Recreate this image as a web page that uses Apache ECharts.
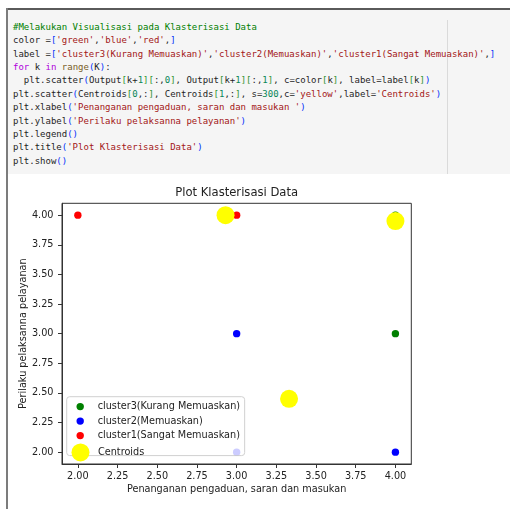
<!DOCTYPE html>
<html>
<head>
<meta charset="utf-8">
<script src="https://cdn.jsdelivr.net/npm/echarts@6/dist/echarts.min.js"></script>
<style>
  html, body { margin: 0; padding: 0; width: 510px; height: 509px; overflow: hidden; background: #fff; }
  #chart { position: absolute; left: 0; top: 0; width: 510px; height: 509px; }
  #cell { position: absolute; left: 6px; top: 8px; width: 504px; height: 166px; background: #f5f5f5;
          border-top: 2px solid #5a5a5a; box-sizing: border-box; }
  #rail { position: absolute; left: 6px; top: 8px; width: 2px; height: 501px; background: #7c7c7c; }
  #ruler { position: absolute; left: 447px; top: 20px; width: 1px; height: 154px; background: #dadada; }
  .ln { position: absolute; left: 13px; font: 9px "DejaVu Sans Mono", monospace; white-space: pre;
        line-height: 12px; color: #1f1f1f; }
</style>
</head>
<body>
<div id="chart"></div>
<div id="cell"></div>
<div id="rail"></div>
<div id="ruler"></div>
<div id="code"></div>
<script>
// Notebook cell source shown above the plot
const codeLines = [
  "#Melakukan Visualisasi pada Klasterisasi Data",
  "color =['green','blue','red',]",
  "label =['cluster3(Kurang Memuaskan)','cluster2(Memuaskan)','cluster1(Sangat Memuaskan)',]",
  "for k in range(K):",
  "  plt.scatter(Output[k+1][:,0], Output[k+1][:,1], c=color[k], label=label[k])",
  "plt.scatter(Centroids[0,:], Centroids[1,:], s=300,c='yellow',label='Centroids')",
  "plt.xlabel('Penanganan pengaduan, saran dan masukan ')",
  "plt.ylabel('Perilaku pelaksanna pelayanan')",
  "plt.legend()",
  "plt.title('Plot Klasterisasi Data')",
  "plt.show()"
];

// Scatter data: [x, y] pairs per cluster
const clusterNames = ['cluster3(Kurang Memuaskan)', 'cluster2(Memuaskan)', 'cluster1(Sangat Memuaskan)'];
const clusterColors = ['#008000', '#0000ff', '#ff0000'];
const cluster3Points = [[4, 4], [4, 3]];
const cluster2Points = [[3, 3], [4, 2], [3, 2]];
const cluster1Points = [[2, 4], [3, 4]];
const centroidName = 'Centroids';
const centroidPoints = [[2.93, 4.0], [4.0, 3.95], [3.33, 2.45]];

const xTicks = [2.0, 2.25, 2.5, 2.75, 3.0, 3.25, 3.5, 3.75, 4.0];
const yTicks = [2.0, 2.25, 2.5, 2.75, 3.0, 3.25, 3.5, 3.75, 4.0];

const titleText = 'Plot Klasterisasi Data';
const xName = 'Penanganan pengaduan, saran dan masukan';
const yName = 'Perilaku pelaksanna pelayanan';

// --- simple syntax colouring for the code cell ---
const KW = { 'for': '#af00db', 'in': '#af00db' };
const BUILTIN = { 'range': '#795e26' };
const BRACKETS = ['#0431fa', '#319331', '#7b3814'];
function esc(s) { return s.replace(/&/g, '&amp;').replace(/</g, '&lt;').replace(/>/g, '&gt;'); }
function span(t, c) { return c ? '<span style="color:' + c + '">' + esc(t) + '</span>' : esc(t); }
function highlight(line) {
  let out = '', i = 0, depth = 0;
  while (i < line.length) {
    const ch = line[i];
    if (ch === '#') { out += span(line.slice(i), '#008000'); break; }
    if (ch === "'") {
      let j = line.indexOf("'", i + 1);
      if (j < 0) j = line.length - 1;
      out += span(line.slice(i, j + 1), '#a31515'); i = j + 1; continue;
    }
    if (/[A-Za-z_]/.test(ch)) {
      let j = i; while (j < line.length && /\w/.test(line[j])) j++;
      const w = line.slice(i, j);
      out += span(w, KW[w] || BUILTIN[w] || null); i = j; continue;
    }
    if (/[0-9]/.test(ch)) {
      let j = i; while (j < line.length && /[0-9.]/.test(line[j])) j++;
      out += span(line.slice(i, j), '#098658'); i = j; continue;
    }
    if ('([{'.includes(ch)) { out += span(ch, BRACKETS[depth % 3]); depth++; i++; continue; }
    if (')]}'.includes(ch)) { depth = Math.max(0, depth - 1); out += span(ch, BRACKETS[depth % 3]); i++; continue; }
    out += esc(ch); i++;
  }
  return out;
}
const codeBox = document.getElementById('code');
codeLines.forEach(function (line, k) {
  const d = document.createElement('div');
  d.className = 'ln';
  d.style.top = (20.7 + 13.4 * k) + 'px';
  d.innerHTML = highlight(line);
  codeBox.appendChild(d);
});

// --- plot ---
const FONT = '"DejaVu Sans", sans-serif';
const TXT = '#222';
const SPINE = '#333';
const gridBox = { left: 62, top: 203.3, width: 349.3, height: 260.7 };

const chart = echarts.init(document.getElementById('chart'), null, { renderer: 'canvas' });

function dotSeries(name, data, color) {
  return {
    name: name, type: 'scatter', data: data, symbol: 'circle', symbolSize: 7.4,
    itemStyle: { color: color, opacity: 1 }, emphasis: { disabled: true }, z: 2
  };
}

const option = {
  animation: false,
  backgroundColor: 'transparent',
  textStyle: { fontFamily: FONT },
  grid: Object.assign({ show: true, borderColor: SPINE, borderWidth: 1, backgroundColor: 'transparent' }, gridBox),
  xAxis: {
    type: 'value', min: 1.9, max: 4.1,
    name: xName, nameLocation: 'middle', nameGap: 20.5, nameMoveOverlap: false,
    nameTextStyle: { fontFamily: FONT, fontSize: 9.7, color: TXT },
    axisLine: { show: true, onZero: false, lineStyle: { color: SPINE, width: 1 } },
    axisTick: { show: true, length: 4, lineStyle: { color: SPINE }, customValues: xTicks },
    axisLabel: { margin: 7, fontFamily: FONT, fontSize: 9.7, color: TXT, customValues: xTicks,
                 formatter: function (v) { return v.toFixed(2); } },
    splitLine: { show: false }
  },
  yAxis: {
    type: 'value', min: 1.9, max: 4.1,
    name: yName, nameLocation: 'middle', nameGap: 33.5, nameMoveOverlap: false,
    nameTextStyle: { fontFamily: FONT, fontSize: 9.7, color: TXT },
    axisLine: { show: true, onZero: false, lineStyle: { color: SPINE, width: 1 } },
    axisTick: { show: true, length: 4, lineStyle: { color: SPINE }, customValues: yTicks },
    axisLabel: { margin: 8.5, fontFamily: FONT, fontSize: 9.7, color: TXT, customValues: yTicks,
                 formatter: function (v) { return v.toFixed(2); } },
    splitLine: { show: false }
  },
  legend: [
    {
      orient: 'vertical', left: 66.7, top: 396.7,
      padding: [4.9, 4.6, 15, 9.8],
      itemWidth: 25, itemHeight: 7.4, itemGap: 4.5,
      backgroundColor: 'rgba(255,255,255,0.8)', borderColor: '#d0d0d0', borderWidth: 1, borderRadius: 3,
      textStyle: { fontFamily: FONT, fontSize: 9.7, color: TXT },
      selectedMode: false,
      data: clusterNames, z: 4
    },
    {
      orient: 'vertical', left: 71.5, top: 443.4, padding: 0,
      itemWidth: 25, itemHeight: 18,
      textStyle: { fontFamily: FONT, fontSize: 9.7, color: TXT },
      selectedMode: false,
      data: [centroidName], z: 5
    }
  ],
  graphic: [{
    type: 'text', x: gridBox.left + gridBox.width / 2, y: 192.7, z: 10,
    style: { text: titleText, fill: TXT, font: '11.6px ' + FONT, align: 'center', verticalAlign: 'middle' }
  }],
  series: [
    dotSeries(clusterNames[0], cluster3Points, clusterColors[0]),
    dotSeries(clusterNames[1], cluster2Points, clusterColors[1]),
    dotSeries(clusterNames[2], cluster1Points, clusterColors[2]),
    {
      name: centroidName, type: 'scatter', data: centroidPoints, symbol: 'circle', symbolSize: 18,
      itemStyle: { color: '#ffff00', opacity: 1 }, emphasis: { disabled: true }, z: 3
    }
  ]
};
chart.setOption(option);
</script>
</body>
</html>
